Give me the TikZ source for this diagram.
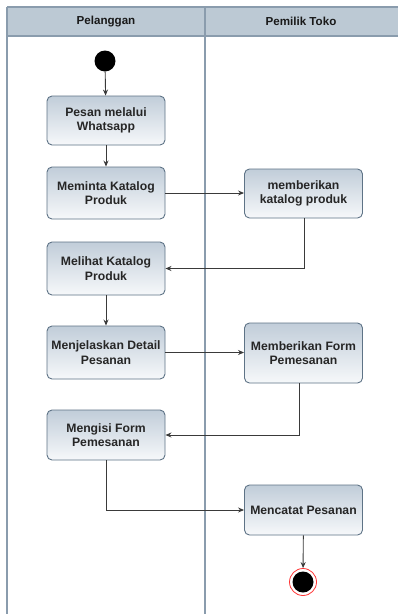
\documentclass[tikz,border=0pt]{standalone}
\usepackage{fontspec}
\setmainfont{Liberation Sans}
\usetikzlibrary{arrows.meta,positioning}
\definecolor{lanefill}{HTML}{BCC9D4}
\definecolor{laneline}{HTML}{8A9CAD}
\definecolor{boxline}{HTML}{5E7386}
\definecolor{boxtop}{HTML}{C1CDD9}
\definecolor{boxbot}{HTML}{F6F8FA}
\definecolor{flow}{HTML}{3A3A3A}
\definecolor{endring}{HTML}{FF3333}
\tikzset{
  x=1pt, y=-1pt,
  act/.style={rectangle, rounded corners=5pt, draw=boxline, line width=0.9pt,
    top color=boxtop, bottom color=boxbot, minimum width=118pt,
    align=center, font=\bfseries\fontsize{12.2}{14.5}\selectfont, text=black!85},
  flowline/.style={draw=flow, line width=0.9pt, -{Stealth[length=6pt,width=5pt]}},
  lanehead/.style={font=\bfseries\fontsize{11.6}{13}\selectfont, text=black!90}
}
\begin{document}
\begin{tikzpicture}
\useasboundingbox (0,0) rectangle (398,614);
\fill[white] (0,0) rectangle (398,614);
% swimlane headers
\fill[lanefill] (7,7) rectangle (400,36);
\draw[laneline, line width=1.2pt] (7,7) -- (400,7);
\draw[laneline, line width=1.2pt] (7,36) -- (400,36);
\draw[laneline, line width=1.2pt] (7,7) -- (7,616);
\draw[laneline, line width=1.2pt] (205,7) -- (205,616);
\node[lanehead] (h1) at (106,21.5) {Pelanggan};
\node[lanehead] (h2) at (301,21.5) {Pemilik Toko};

% start and end
\node[circle, fill=black, minimum size=21pt, inner sep=0pt] (start) at (105,61) {};
\node[circle, draw=endring, line width=0.8pt, fill=white, minimum size=27pt, inner sep=0pt] (stop) at (303,582) {};
\node[circle, fill=black, minimum size=21pt, inner sep=0pt] (stopdot) at (303,582) {};

% activities
\node[act, minimum height=49pt] (a1) at (106,120.5) {Pesan melalui\\Whatsapp};
\node[act, minimum height=52pt] (a2) at (106,193) {Meminta Katalog\\Produk};
\node[act, minimum height=49pt] (b1) at (303.5,193.5) {memberikan\\katalog produk};
\node[act, minimum height=53pt] (a3) at (106,268.5) {Melihat Katalog\\Produk};
\node[act, minimum height=53pt] (a4) at (106,352.5) {Menjelaskan Detail\\Pesanan};
\node[act, minimum height=60pt] (b2) at (303.5,353) {Memberikan Form\\Pemesanan};
\node[act, minimum height=50pt] (a5) at (106,435) {Mengisi Form\\Pemesanan};
\node[act, minimum height=50pt] (b3) at (303.5,510) {Mencatat Pesanan};

% control flow
\draw[flowline] (start) -- (a1);
\draw[flowline] (a1) -- (a2);
\draw[flowline] (a2.east) -- (a2.east -| b1.west);
\draw[flowline] (b1.south -| 304,0) |- (a3.east);
\draw[flowline] (a3) -- (a4);
\draw[flowline] (a4.east) -- (a4.east -| b2.west);
\draw[flowline] (b2.south -| 299,0) |- (a5.east);
\draw[flowline] (a5.south) |- (b3.west);
\draw[flowline] (b3) -- (stop);
\end{tikzpicture}
\end{document}
